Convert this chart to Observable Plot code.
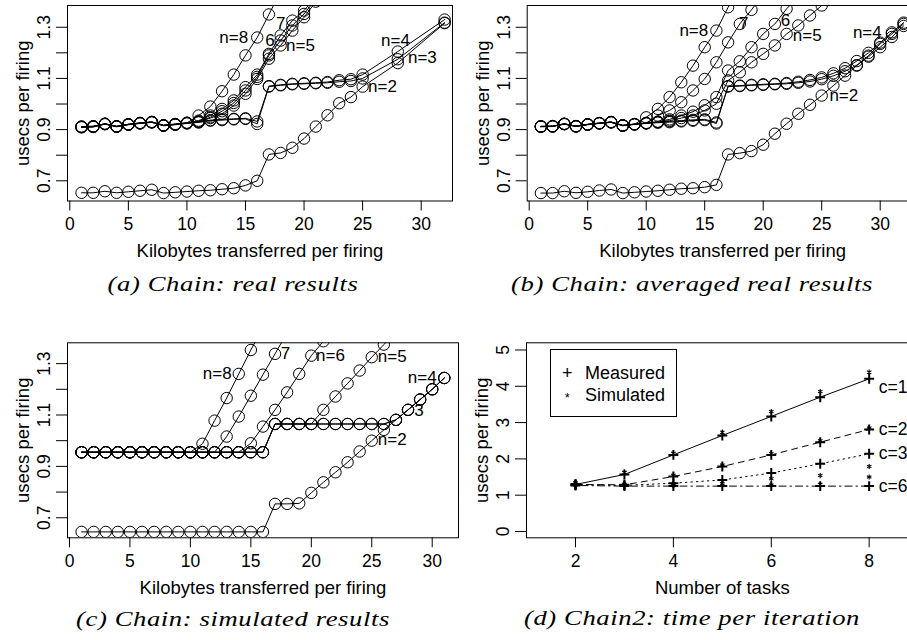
<!DOCTYPE html>
<html><head><meta charset="utf-8">
<script src="https://cdn.jsdelivr.net/npm/d3@7"></script>
<script src="https://cdn.jsdelivr.net/npm/@observablehq/plot@0.6"></script>
<style>
html,body{margin:0;padding:0;background:#fff;overflow:hidden;width:907px;height:640px;}
#stage{position:absolute;left:0;top:0;width:1000px;height:640px;}
#stage svg{position:absolute;left:0;top:0;}
.cap{position:absolute;font-family:"Liberation Serif","Times New Roman",serif;font-style:italic;font-size:22px;line-height:22px;letter-spacing:0.5px;white-space:nowrap;transform:translateX(-50%) scaleX(1.21);color:#000;}
#legend{position:absolute;border:1px solid #000;box-sizing:border-box;font-family:"Liberation Sans",Arial,sans-serif;font-size:18px;line-height:20px;}
#legend span{position:absolute;white-space:nowrap;}
</style></head>
<body><div id="stage"></div>
<script>
// ---------------- data ----------------
const xTicksKB = [0, 5, 10, 15, 20, 25, 30];
const yTicksChain = [0.7, 0.8, 0.9, 1.0, 1.1, 1.2, 1.3];
const yLabelsChain = [0.7, 0.9, 1.1, 1.3];

// (a) real results
const xA = [1,2,3,4,5,6,7,8,9,10,11,12,13,14,15,16,17,18,19,20,21,22,23,24,25,28,32];
const A_n2 = [0.653,0.653,0.659,0.653,0.657,0.661,0.665,0.652,0.655,0.658,0.661,0.663,0.667,0.671,0.682,0.700,0.803,0.809,0.829,0.865,0.912,0.956,1.003,1.027,1.068,1.160,1.316];
const A_n3 = [0.909,0.910,0.922,0.912,0.920,0.925,0.929,0.916,0.920,0.925,0.928,0.935,0.937,0.940,0.942,0.922,1.068,1.073,1.077,1.079,1.081,1.083,1.087,1.090,1.100,1.175,1.318];
const A_n4 = [0.912,0.913,0.923,0.913,0.921,0.926,0.930,0.917,0.921,0.926,0.929,0.937,0.940,0.942,0.944,0.932,1.070,1.075,1.079,1.081,1.083,1.086,1.093,1.097,1.115,1.205,1.330];
const A_n5 = [0.910,0.911,0.921,0.911,0.919,0.924,0.928,0.915,0.919,0.924,0.930,0.945,0.962,0.994,1.040,1.098,1.177,1.229,1.287,1.339,1.400,1.460];
const A_n6 = [0.911,0.912,0.922,0.912,0.920,0.925,0.929,0.916,0.920,0.926,0.932,0.948,0.972,1.004,1.053,1.106,1.190,1.248,1.307,1.352,1.410,1.470];
const A_n7 = [0.910,0.912,0.923,0.913,0.921,0.926,0.930,0.917,0.922,0.927,0.935,0.955,0.981,1.014,1.066,1.115,1.196,1.268,1.326,1.365,1.420];
const A_n8 = [0.911,0.913,0.922,0.912,0.920,0.925,0.929,0.916,0.921,0.926,0.955,0.990,1.050,1.115,1.190,1.260,1.350,1.440];
const A_labText = ["n=8", "7", "6", "n=5", "n=4", "n=3", "n=2"];
const A_labX = [14.0, 18.0, 17.1, 19.7, 27.8, 30.1, 26.7];
const A_labY = [1.260, 1.314, 1.248, 1.228, 1.248, 1.183, 1.068];

// (b) averaged real results
const xB = [1,2,3,4,5,6,7,8,9,10,11,12,13,14,15,16,17,18,19,20,21,22,23,24,25,26,27,28,29,30,31,32];
const B_n2 = [0.652,0.652,0.659,0.653,0.657,0.662,0.666,0.652,0.655,0.658,0.661,0.665,0.669,0.671,0.675,0.684,0.803,0.808,0.816,0.841,0.884,0.923,0.962,0.997,1.033,1.072,1.111,1.150,1.189,1.235,1.274,1.313];
const B_n3 = [0.911,0.912,0.921,0.912,0.919,0.924,0.928,0.915,0.920,0.924,0.927,0.929,0.932,0.935,0.937,0.924,1.068,1.070,1.073,1.075,1.077,1.079,1.083,1.088,1.097,1.110,1.128,1.152,1.185,1.222,1.262,1.305];
const B_n4 = [0.913,0.914,0.923,0.914,0.921,0.926,0.930,0.917,0.922,0.926,0.929,0.932,0.935,0.938,0.940,0.928,1.070,1.072,1.075,1.077,1.079,1.082,1.087,1.094,1.104,1.120,1.140,1.168,1.200,1.240,1.280,1.318];
const B_n5 = [0.912,0.913,0.922,0.913,0.920,0.925,0.929,0.916,0.921,0.925,0.930,0.935,0.945,0.955,0.975,1.001,1.092,1.124,1.163,1.196,1.229,1.274,1.307,1.346,1.385,1.420];
const B_n6 = [0.912,0.913,0.922,0.913,0.920,0.925,0.929,0.916,0.921,0.925,0.931,0.940,0.955,0.970,0.995,1.027,1.131,1.167,1.222,1.274,1.313,1.372,1.420];
const B_n7 = [0.912,0.913,0.922,0.913,0.920,0.925,0.929,0.916,0.921,0.926,0.955,0.975,1.007,1.053,1.098,1.163,1.241,1.313,1.368,1.430];
const B_n8 = [0.912,0.913,0.922,0.913,0.920,0.925,0.929,0.916,0.921,0.948,0.981,1.027,1.085,1.150,1.222,1.287,1.378,1.450];
const B_labText = ["n=8", "7", "6", "n=5", "n=4", "n=2"];
const B_labX = [14.07, 18.34, 21.9, 23.76, 28.9, 26.89];
const B_labY = [1.287, 1.313, 1.326, 1.268, 1.280, 1.033];

// (c) simulated results
const xC = [1,2,3,4,5,6,7,8,9,10,11,12,13,14,15,16,17,18,19,20,21,22,23,24,25,26,27,28,29,30,31];
const C_n2 = [0.645,0.645,0.645,0.645,0.645,0.645,0.645,0.645,0.645,0.645,0.645,0.645,0.645,0.645,0.645,0.645,0.754,0.754,0.756,0.797,0.838,0.877,0.916,0.958,1.000,1.042,1.081,1.120,1.160,1.200,1.244];
const C_n3 = [0.955,0.955,0.955,0.955,0.955,0.955,0.955,0.955,0.955,0.955,0.955,0.955,0.955,0.955,0.955,0.955,1.065,1.065,1.065,1.065,1.065,1.065,1.065,1.065,1.065,1.065,1.081,1.120,1.160,1.200,1.244];
const C_n4 = [0.955,0.955,0.955,0.955,0.955,0.955,0.955,0.955,0.955,0.955,0.955,0.955,0.955,0.955,0.955,0.955,1.065,1.065,1.065,1.065,1.065,1.065,1.065,1.065,1.065,1.065,1.081,1.120,1.160,1.200,1.244];
const C_n5 = [0.955,0.955,0.955,0.955,0.955,0.955,0.955,0.955,0.955,0.955,0.955,0.955,0.955,0.955,0.955,0.955,1.065,1.065,1.065,1.065,1.120,1.172,1.223,1.273,1.325,1.374,1.425];
const C_n6 = [0.955,0.955,0.955,0.955,0.955,0.955,0.955,0.955,0.955,0.955,0.955,0.955,0.955,0.955,0.990,1.055,1.120,1.188,1.260,1.331,1.387,1.450];
const C_n7 = [0.955,0.955,0.955,0.955,0.955,0.955,0.955,0.955,0.955,0.955,0.955,0.955,1.016,1.094,1.175,1.257,1.338,1.420];
const C_n8 = [0.955,0.955,0.955,0.955,0.955,0.955,0.955,0.955,0.955,0.955,0.988,1.078,1.166,1.260,1.353,1.440];
const C_labText = ["n=8", "7", "n=6", "n=5", "n=4", "3", "n=2"];
const C_labX = [12.22, 17.87, 21.59, 26.69, 29.17, 28.9, 26.69];
const C_labY = [1.260, 1.338, 1.331, 1.328, 1.244, 1.117, 1.004];

// (d) Chain2: time per iteration
const tasks = [2, 3, 4, 5, 6, 7, 8];
const xTicksD = [2, 4, 6, 8];
const yTicksD = [0, 1, 2, 3, 4, 5];
const D_meas_c1 = [1.295, 1.570, 2.110, 2.645, 3.170, 3.700, 4.205];
const D_meas_c2 = [1.295, 1.285, 1.515, 1.790, 2.110, 2.460, 2.810];
const D_meas_c3 = [1.295, 1.270, 1.330, 1.420, 1.610, 1.865, 2.140];
const D_meas_c6 = [1.267, 1.250, 1.250, 1.250, 1.250, 1.250, 1.250];
const D_sim_c1 = [1.340, 1.630, 2.157, 2.736, 3.306, 3.857, 4.390];
const D_sim_c2 = [1.300, 1.300, 1.550, 1.830, 2.150, 2.500, 2.850];
const D_sim_c3 = [1.300, 1.280, 1.300, 1.380, 1.450, 1.540, 1.790];
const D_sim_c6 = [1.280, 1.270, 1.270, 1.270, 1.280, 1.300, 1.500];
const D_labText = ["c=1", "c=2", "c=3", "c=6"];
const D_labY = [3.97, 2.80, 2.14, 1.24];

const captions = ["(a) Chain: real results", "(b) Chain: averaged real results",
                  "(c) Chain: simulated results", "(d) Chain2: time per iteration"];

// ---------------- drawing ----------------
const W = 1000, H = 640;
const sans = "'Liberation Sans', Arial, Helvetica, sans-serif";
const FT = 17.5;   // tick labels
const FL = 18.5;   // axis titles
const stage = document.getElementById("stage");

function rowsFrom(xs, series) {
  return series.flatMap(([n, vals]) => vals.map((y, i) => ({n, x: xs[i], y})));
}
function labelsFrom(t, xs, ys) { return t.map((s, i) => ({t: s, x: xs[i], y: ys[i]})); }

function baseMarks(o) {
  return [
    Plot.frame({stroke: "black", strokeWidth: 1}),
    Plot.axisX({ticks: o.xTicks, tickSize: 10, tickPadding: 7, tickFormat: d => String(d), label: null, fontSize: FT}),
    Plot.axisY({ticks: o.yTicks, tickSize: 11, tickFormat: () => "", label: null}),
    Plot.text(o.yLabels, {y: d => d, text: d => String(d), frameAnchor: "left", dx: -23, rotate: -90,
      textAnchor: "middle", lineAnchor: "middle", fontSize: FT}),
    Plot.text(["usecs per firing"], {text: d => d, frameAnchor: "left", dx: -44.5, rotate: -90,
      textAnchor: "middle", lineAnchor: "middle", fontSize: FL}),
    Plot.text([o.xTitle], {text: d => d, frameAnchor: "bottom", dy: 56, textAnchor: "middle", lineAnchor: "bottom", fontSize: FL})
  ];
}

function makePlot(g, xdom, ydom, marks) {
  return Plot.plot({
    width: W, height: H,
    marginLeft: g.fl, marginRight: W - g.fr, marginTop: g.ft, marginBottom: H - g.fb,
    x: {domain: xdom}, y: {domain: ydom},
    style: {background: "none", maxWidth: "none", overflow: "visible", fontFamily: sans, fontSize: FT + "px", color: "black"},
    marks
  });
}

function chainPanel(g, xdom, ydom, rows, labels) {
  const marks = baseMarks({xTicks: xTicksKB, yTicks: yTicksChain, yLabels: yLabelsChain,
    xTitle: "Kilobytes transferred per firing"});
  marks.push(
    Plot.line(rows, {x: "x", y: "y", z: "n", stroke: "black", strokeWidth: 1, clip: true}),
    Plot.dot(rows, {x: "x", y: "y", r: 5.7, fill: "none", stroke: "black", strokeWidth: 1, clip: true}),
    Plot.text(labels, {x: "x", y: "y", text: "t", fontSize: 17, textAnchor: "middle", lineAnchor: "middle"})
  );
  return makePlot(g, xdom, ydom, marks);
}

// panel (a)
const rowsA = rowsFrom(xA, [[2, A_n2], [3, A_n3], [4, A_n4], [5, A_n5], [6, A_n6], [7, A_n7], [8, A_n8]]);
stage.appendChild(chainPanel({fl: 67, fr: 452, ft: 5, fb: 200.5}, [-0.196, 32.673], [0.621, 1.385],
  rowsA, labelsFrom(A_labText, A_labX, A_labY)));

// panel (b)
const rowsB = rowsFrom(xB, [[2, B_n2], [3, B_n3], [4, B_n4], [5, B_n5], [6, B_n6], [7, B_n7], [8, B_n8]]);
stage.appendChild(chainPanel({fl: 526.7, fr: 917.6, ft: 5, fb: 200.5}, [-0.171, 33.24], [0.621, 1.385],
  rowsB, labelsFrom(B_labText, B_labX, B_labY)));

// panel (c)
const rowsC = rowsFrom(xC, [[2, C_n2], [3, C_n3], [4, C_n4], [5, C_n5], [6, C_n6], [7, C_n7], [8, C_n8]]);
stage.appendChild(chainPanel({fl: 67, fr: 458, ft: 342.3, fb: 537.3}, [-0.165, 32.175], [0.622, 1.381],
  rowsC, labelsFrom(C_labText, C_labX, C_labY)));

// panel (d)
const measD = rowsFrom(tasks, [["c=1", D_meas_c1], ["c=2", D_meas_c2], ["c=3", D_meas_c3], ["c=6", D_meas_c6]]);
const simD = rowsFrom(tasks, [["c=1", D_sim_c1], ["c=2", D_sim_c2], ["c=3", D_sim_c3], ["c=6", D_sim_c6]]);
const dashes = {"c=1": null, "c=2": "6,5", "c=3": "1.5,4", "c=6": "1.5,4,7,4"};
const dMarks = baseMarks({xTicks: xTicksD, yTicks: yTicksD, yLabels: yTicksD, xTitle: "Number of tasks"});
for (const c of ["c=1", "c=2", "c=3", "c=6"]) {
  dMarks.push(Plot.line(measD.filter(d => d.n === c), {x: "x", y: "y", stroke: "black", strokeWidth: 1, strokeDasharray: dashes[c]}));
}
dMarks.push(
  Plot.dot(measD, {x: "x", y: "y", symbol: "plus", r: 3.3, stroke: "black", strokeWidth: 2}),
  Plot.dot(simD, {x: "x", y: "y", symbol: "asterisk", r: 2.4, stroke: "black", strokeWidth: 1.1}),
  Plot.text(D_labText.map((t, i) => ({t, y: D_labY[i]})), {x: () => 8, y: "y", text: "t", dx: 9.6,
    textAnchor: "start", lineAnchor: "middle", fontSize: FT})
);
stage.appendChild(makePlot({fl: 526, fr: 917.6, ft: 342.3, fb: 537.3}, [0.999, 9.0], [-0.174, 5.198], dMarks));

// captions (computer-modern-like italic, wide)
const capPos = [[233, 272.6], [692, 272.6], [233, 607.8], [691.5, 607]];
captions.forEach((t, i) => {
  const d = document.createElement("div");
  d.className = "cap";
  d.textContent = t;
  d.style.left = capPos[i][0] + "px";
  d.style.top = capPos[i][1] + "px";
  stage.appendChild(d);
});

// legend for (d)
const lg = document.createElement("div");
lg.id = "legend";
Object.assign(lg.style, {left: "550px", top: "349.3px", width: "126.7px", height: "68px"});
lg.innerHTML =
  '<span style="left:11px;top:12.7px">+</span>' +
  '<span style="left:34px;top:12.7px">Measured</span>' +
  '<span style="left:13.8px;top:38px;font-size:13px">*</span>' +
  '<span style="left:34px;top:35.1px">Simulated</span>';
stage.appendChild(lg);
</script>
</body></html>
